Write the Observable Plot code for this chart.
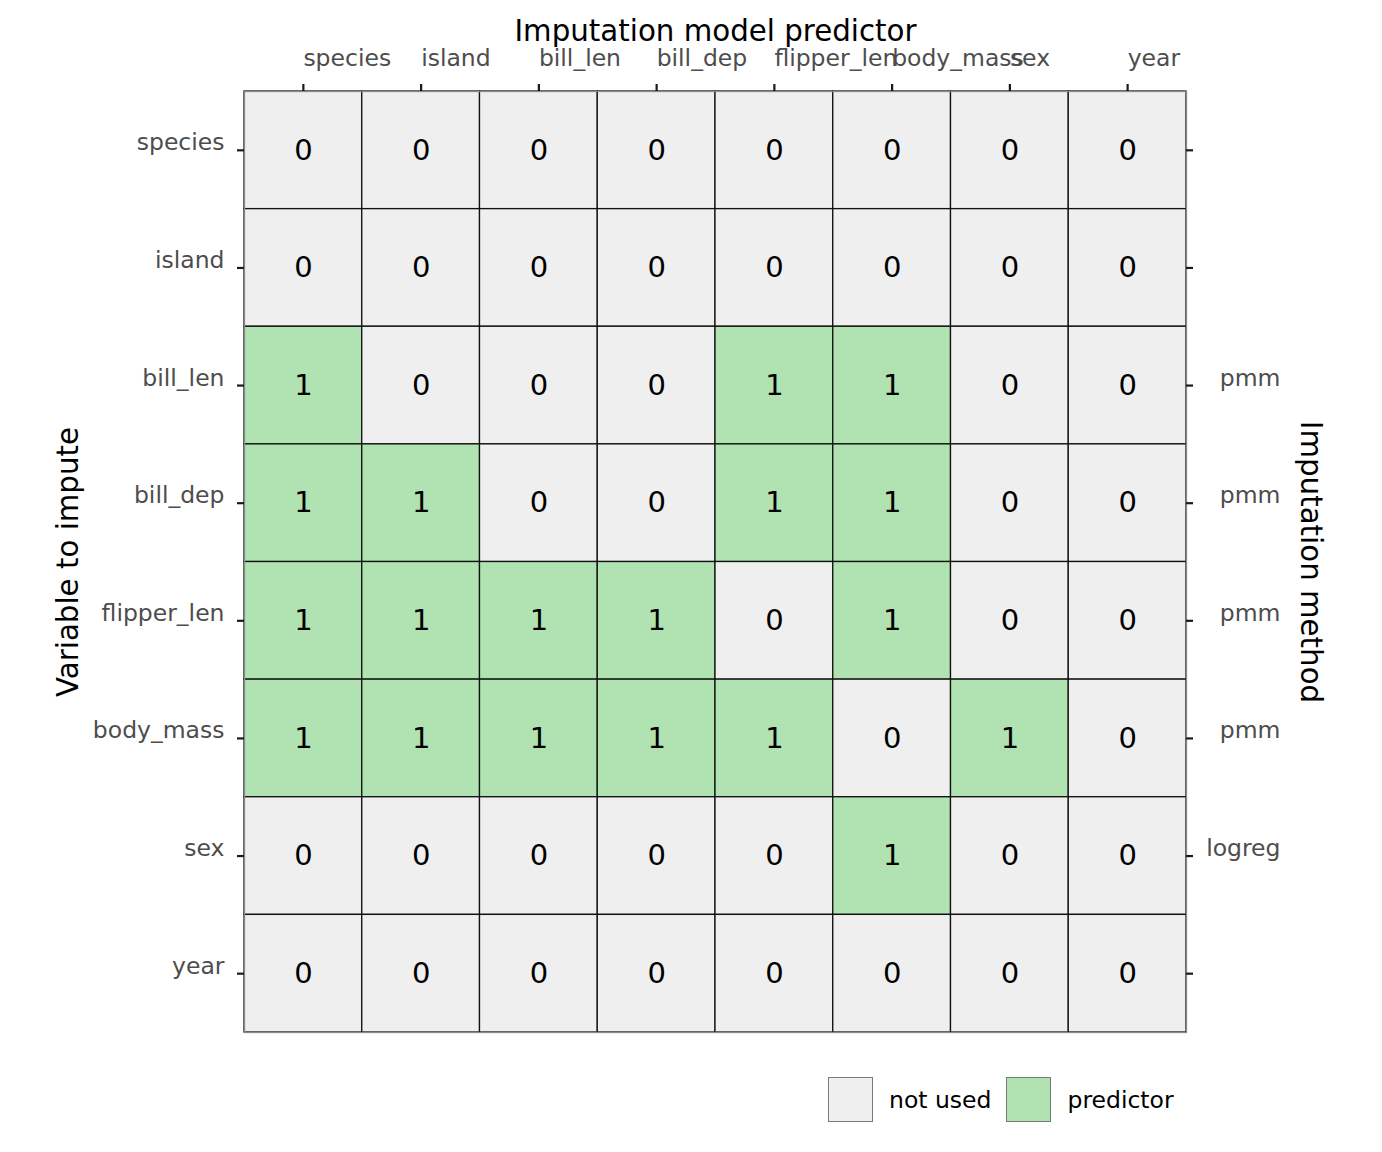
<!DOCTYPE html>
<html>
<head>
<meta charset="utf-8">
<script src="https://cdn.jsdelivr.net/npm/d3@7"></script>
<script src="https://cdn.jsdelivr.net/npm/@observablehq/plot@0.6"></script>
<style>
  body { margin: 0; background: #fff; font-family: "DejaVu Sans", sans-serif; }
  #legend { display: flex; align-items: center; margin-left: 828px; margin-top: 17px; font-size: 23.5px; color: #000; }
  .key { width: 43px; height: 43px; border: 1px solid #7a7a7a; box-sizing: content-box; }
  .lab { margin-left: 16px; margin-right: 15px; }
</style>
</head>
<body>
<div id="chart"></div>
<script>
const variables = ["species", "island", "bill_len", "bill_dep", "flipper_len", "body_mass", "sex", "year"];
const methods = ["", "", "pmm", "pmm", "pmm", "pmm", "logreg", ""];
const predictorMatrix = [
  [0, 0, 0, 0, 0, 0, 0, 0],
  [0, 0, 0, 0, 0, 0, 0, 0],
  [1, 0, 0, 0, 1, 1, 0, 0],
  [1, 1, 0, 0, 1, 1, 0, 0],
  [1, 1, 1, 1, 0, 1, 0, 0],
  [1, 1, 1, 1, 1, 0, 1, 0],
  [0, 0, 0, 0, 0, 1, 0, 0],
  [0, 0, 0, 0, 0, 0, 0, 0]
];
const legendLabels = ["not used", "predictor"];
const fillColors = ["#efefef", "#b1e2b1"];

const cells = [];
variables.forEach((row, i) => variables.forEach((col, j) => {
  cells.push({row, col, value: predictorMatrix[i][j]});
}));
const methodOf = Object.fromEntries(variables.map((v, i) => [v, methods[i]]));

const W = 1382, H = 1060, mL = 244, mR = 196, mT = 91, mB = 28;
const panelW = W - mL - mR, panelH = H - mT - mB, tick = 7;

const plot = Plot.plot({
  width: W,
  height: H,
  marginLeft: mL,
  marginRight: mR,
  marginTop: mT,
  marginBottom: mB,
  style: {fontFamily: "DejaVu Sans, sans-serif", background: "#fff"},
  x: {domain: variables, padding: 0, round: false, axis: null},
  y: {domain: variables, padding: 0, round: false, axis: null},
  color: {domain: [0, 1], range: fillColors, type: "ordinal"},
  marks: [
    Plot.cell(cells, {x: "col", y: "row", fill: d => d.value, stroke: "#111", strokeWidth: 1.3}),
    Plot.frame({stroke: "#8a8a8a", strokeWidth: 1.3}),
    Plot.text(cells, {x: "col", y: "row", text: d => String(d.value), fontSize: 29, fill: "#000"}),
    // tick label text
    Plot.axisX({anchor: "top", tickSize: 0, tickPadding: 26, textAnchor: "start", fontSize: 23.5, color: "#4d4d4d", label: null}),
    Plot.axisY({anchor: "left", tickSize: 0, tickPadding: 20, dy: -7.5, fontSize: 23.5, color: "#4d4d4d", label: null}),
    Plot.axisY({anchor: "right", tickSize: 0, tickPadding: 94, textAnchor: "end", dy: -7.5, fontSize: 23.5, color: "#4d4d4d", tickFormat: d => methodOf[d], label: null}),
    // tick marks (outside the panel)
    Plot.ruleX(variables, {x: d => d, insetTop: -tick, insetBottom: panelH, stroke: "#1a1a1a", strokeWidth: 2.2}),
    Plot.ruleY(variables, {y: d => d, insetLeft: -tick, insetRight: panelW, stroke: "#1a1a1a", strokeWidth: 2.2}),
    Plot.ruleY(variables, {y: d => d, insetLeft: panelW, insetRight: -tick, stroke: "#1a1a1a", strokeWidth: 2.2}),
    // axis titles
    Plot.text(["Imputation model predictor"], {frameAnchor: "top", dy: -60, lineAnchor: "middle", textAnchor: "middle", fontSize: 29.3, fill: "#000"}),
    Plot.text(["Variable to impute"], {frameAnchor: "left", dx: -176, rotate: -90, lineAnchor: "middle", textAnchor: "middle", fontSize: 29.3, fill: "#000"}),
    Plot.text(["Imputation method"], {frameAnchor: "right", dx: 124, rotate: 90, lineAnchor: "middle", textAnchor: "middle", fontSize: 29.3, fill: "#000"})
  ]
});
document.getElementById("chart").appendChild(plot);

const legend = document.createElement("div");
legend.id = "legend";
legendLabels.forEach((lab, i) => {
  const k = document.createElement("div");
  k.className = "key";
  k.style.background = fillColors[i];
  const t = document.createElement("span");
  t.className = "lab";
  t.textContent = lab;
  legend.appendChild(k);
  legend.appendChild(t);
});
document.body.appendChild(legend);
</script>
</body>
</html>
